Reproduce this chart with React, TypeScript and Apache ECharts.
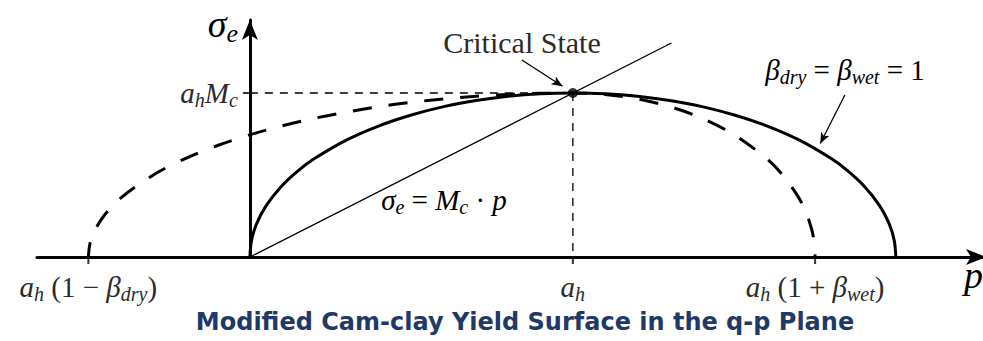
import React, { useEffect, useRef } from 'react';
import * as echarts from 'echarts';

// Yield surface with beta_dry = beta_wet = 1 (solid) (a_h = 1, a_h*M_c = 1)
const solidP = [0, 0.005, 0.02, 0.05, 0.1, 0.15, 0.2, 0.3, 0.4, 0.5, 0.6, 0.7, 0.8, 0.9, 1.0, 1.1, 1.2, 1.3, 1.4, 1.5, 1.6, 1.7, 1.8, 1.85, 1.9, 1.95, 1.98, 1.995, 2.0];
const solidQ = [0, 0.1, 0.199, 0.312, 0.436, 0.527, 0.6, 0.714, 0.8, 0.866, 0.917, 0.954, 0.98, 0.995, 1, 0.995, 0.98, 0.954, 0.917, 0.866, 0.8, 0.714, 0.6, 0.527, 0.436, 0.312, 0.199, 0.1, 0];
// Yield surface with beta_dry ~ 1.5, beta_wet ~ 0.75 (dashed)
const dashedP = [-0.5, -0.495, -0.48, -0.45, -0.4, -0.3, -0.2, -0.1, 0, 0.1, 0.2, 0.3, 0.4, 0.5, 0.6, 0.7, 0.8, 0.9, 1.0, 1.1, 1.2, 1.3, 1.4, 1.5, 1.6, 1.65, 1.7, 1.725, 1.74, 1.745, 1.75];
const dashedQ = [0, 0.082, 0.163, 0.256, 0.359, 0.499, 0.6, 0.68, 0.745, 0.8, 0.846, 0.884, 0.917, 0.943, 0.964, 0.98, 0.991, 0.998, 1, 0.991, 0.964, 0.917, 0.846, 0.745, 0.6, 0.499, 0.359, 0.256, 0.163, 0.115, 0];
// Critical state line sigma_e = M_c * p
const csLine = [[0, 0], [1.305, 1.305]];
const criticalPoint = [[1, 1]];
const guideH = [[0, 1], [1, 1]];
const guideV = [[1, 1], [1, 0]];
// annotation arrows
const criticalArrow = [[0.842, 1.201], [0.968, 1.041]];
const betaArrow = [[1.842, 0.988], [1.766, 0.692]];
// axis tick values and labels
const xTickValues = [-0.5, 1, 1.75];
const xTickLabels = [
  '{i|a}{s|h}{r| (1 − }{i|β}{s|dry}{r|)}',
  '{i|a}{s|h}',
  '{i|a}{s|h}{r| (1 + }{i|β}{s|wet}{r|)}',
];
const yTickValues = [1];
const yTickLabels = ['{i|a}{s|h}{i|M}{s|c}'];

const TITLE = 'Modified Cam-clay Yield Surface in the q-p Plane';
const SERIF = '"Liberation Serif", "Times New Roman", serif';
const TXT = '#2b2b2b';

const mathRich: any = {
  i: { fontFamily: SERIF, fontStyle: 'italic', fontSize: 29, color: TXT },
  r: { fontFamily: SERIF, fontSize: 29, color: TXT },
  s: { fontFamily: SERIF, fontStyle: 'italic', fontSize: 20, color: TXT, padding: [14, 0, 0, 0] },
  bi: { fontFamily: SERIF, fontStyle: 'italic', fontSize: 38, color: TXT },
  bs: { fontFamily: SERIF, fontStyle: 'italic', fontSize: 26, color: TXT, padding: [18, 0, 0, 0] },
};

const zip = (a: number[], b: number[]) => a.map((v, i) => [v, b[i]]);

function richText(text: string, x: number, y: number, align: string, vAlign = 'middle') {
  return {
    type: 'text',
    x,
    y,
    silent: true,
    style: {
      text,
      rich: mathRich,
      align,
      textAlign: align,
      verticalAlign: vAlign,
      textVerticalAlign: vAlign,
    },
  };
}

const GRID_LEFT = 37;
const GRID_W = 949;
const X_MIN = -0.659;
const X_MAX = 2.279;
// shift the y axis so that it sits on p = 0
const Y_AXIS_OFFSET = -((0 - X_MIN) / (X_MAX - X_MIN)) * GRID_W;

export default function App() {
  const ref = useRef<HTMLDivElement>(null);
  useEffect(() => {
    if (!ref.current) return;
    const chart = echarts.init(ref.current, null, { renderer: 'svg' });
    const option: any = {
      animation: false,
      backgroundColor: '#ffffff',
      grid: {
        left: GRID_LEFT,
        top: 20,
        width: GRID_W,
        height: 237,
        containLabel: false,
        outerBoundsMode: 'none',
      },
      xAxis: {
        type: 'value',
        min: X_MIN,
        max: X_MAX,
        splitLine: { show: false },
        axisLine: {
          show: true,
          onZero: false,
          symbol: ['none', 'arrow'],
          symbolSize: [12, 20],
          lineStyle: { color: '#000', width: 3 },
        },
        axisTick: { show: false },
        axisLabel: {
          show: true,
          customValues: xTickValues,
          margin: 13,
          rich: mathRich,
          formatter: (v: number) => {
            const idx = xTickValues.findIndex((t) => Math.abs(t - v) < 1e-6);
            return idx >= 0 ? xTickLabels[idx] : '';
          },
        },
      },
      yAxis: {
        type: 'value',
        min: 0,
        max: 1.445,
        offset: Y_AXIS_OFFSET,
        splitLine: { show: false },
        axisLine: {
          show: true,
          onZero: false,
          symbol: ['none', 'arrow'],
          symbolSize: [12, 20],
          lineStyle: { color: '#000', width: 3 },
        },
        axisTick: { show: false },
        axisLabel: {
          show: true,
          customValues: yTickValues,
          margin: 12,
          rich: mathRich,
          formatter: (v: number) => {
            const idx = yTickValues.findIndex((t) => Math.abs(t - v) < 1e-6);
            return idx >= 0 ? yTickLabels[idx] : '';
          },
        },
      },
      series: [
        {
          name: 'guideH',
          type: 'line',
          data: guideH,
          showSymbol: false,
          lineStyle: { color: '#000', width: 1.3, type: [8, 7] },
          z: 1,
        },
        {
          name: 'guideV',
          type: 'line',
          data: guideV,
          showSymbol: false,
          lineStyle: { color: '#000', width: 1.3, type: [8, 7] },
          z: 1,
        },
        {
          name: 'csl',
          type: 'line',
          data: csLine,
          showSymbol: false,
          lineStyle: { color: '#000', width: 1.3 },
          z: 2,
          markLine: {
            silent: true,
            symbol: ['none', 'arrow'],
            symbolSize: [7, 11],
            label: { show: false },
            lineStyle: { color: '#000', width: 1.3, type: 'solid' },
            data: [
              [{ coord: criticalArrow[0] }, { coord: criticalArrow[1] }],
              [{ coord: betaArrow[0] }, { coord: betaArrow[1] }],
            ],
          },
        },
        {
          name: 'dashed',
          type: 'line',
          data: zip(dashedP, dashedQ),
          showSymbol: false,
          smooth: 0.3,
          lineStyle: { color: '#000', width: 3, type: [19, 17], dashOffset: 4 },
          z: 3,
        },
        {
          name: 'solid',
          type: 'line',
          data: zip(solidP, solidQ),
          showSymbol: false,
          smooth: 0.3,
          lineStyle: { color: '#000', width: 3 },
          z: 4,
        },
        {
          name: 'critical',
          type: 'scatter',
          data: criticalPoint,
          symbolSize: 10,
          itemStyle: { color: '#000' },
          z: 5,
        },
        {
          name: 'xTicks',
          type: 'scatter',
          data: xTickValues.map((v) => [v, 0]),
          symbol: 'rect',
          symbolSize: [2, 7],
          symbolOffset: [0, 3.5],
          clip: false,
          itemStyle: { color: '#000' },
          silent: true,
          z: 6,
        },
        {
          name: 'yTicks',
          type: 'scatter',
          data: yTickValues.map((v) => [0, v]),
          symbol: 'rect',
          symbolSize: [7, 2],
          symbolOffset: [-3.5, 0],
          clip: false,
          itemStyle: { color: '#000' },
          silent: true,
          z: 6,
        },
      ],
      graphic: [
        richText('{bi|σ}{bs|e}', 238, 24, 'right'),
        richText('{bi|p}', 964, 275, 'left'),
        {
          type: 'text',
          x: 522,
          y: 42,
          silent: true,
          style: {
            text: 'Critical State',
            fontFamily: SERIF,
            fontSize: 30,
            fill: TXT,
            align: 'center',
            textAlign: 'center',
            verticalAlign: 'middle',
            textVerticalAlign: 'middle',
          },
        },
        richText('{i|β}{s|dry}{r| = }{i|β}{s|wet}{r| = 1}', 845, 70, 'center'),
        richText('{i|σ}{s|e}{r| = }{i|M}{s|c}{r| · }{i|p}', 444, 200, 'center'),
        {
          type: 'text',
          x: 525,
          y: 322,
          silent: true,
          style: {
            text: TITLE,
            fontFamily: '"DejaVu Sans", Verdana, sans-serif',
            fontWeight: 'bold',
            fontSize: 24,
            fill: '#1f3a68',
            align: 'center',
            textAlign: 'center',
            verticalAlign: 'middle',
            textVerticalAlign: 'middle',
          },
        },
      ],
    };
    chart.setOption(option);
    return () => chart.dispose();
  }, []);
  return (
    <div
      ref={ref}
      style={{ position: 'fixed', left: 0, top: 0, width: 983, height: 341, background: '#fff' }}
    />
  );
}
